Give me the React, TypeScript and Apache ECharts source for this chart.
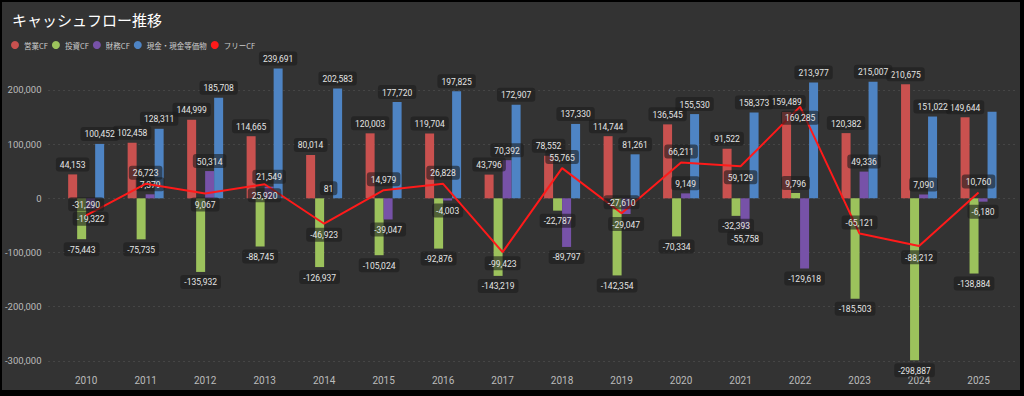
import React, { useEffect, useRef } from "react";
import * as echarts from "echarts";

const years = ["2010","2011","2012","2013","2014","2015","2016","2017","2018","2019","2020","2021","2022","2023","2024","2025"];
const operatingCF = [44153,102458,144999,114665,80014,120003,119704,43796,78552,114744,136545,91522,159489,120382,210675,149644];
const investingCF = [-75443,-75735,-135932,-88745,-126937,-105024,-92876,-143219,-22787,-142354,-70334,-32393,9796,-185503,-298887,-138884];
const financingCF = [-19322,7379,50314,21549,81,-39047,-4003,70392,-89797,-29047,9149,-55758,-129618,49336,7090,-6180];
const cashEq = [100452,128311,185708,239691,202583,177720,197825,172907,137330,81261,155530,158373,213977,215007,151022,160000];
const freeCF = [-31290,26723,9067,25920,-46923,14979,26828,-99423,55765,-27610,66211,59129,169285,-65121,-88212,10760];
const freeLabelPos = ["top","top","bottom","bottom","bottom","top","top","bottom","top","top","top","bottom","bottom","top","bottom","top"];
const cashHiddenLabels = [15];
const seriesNames = ["営業CF","投資CF","財務CF","現金・現金等価物","フリーCF"];

const COLORS = ["#c9514f", "#9cc25c", "#7752a8", "#4e84c4", "#ff1a1a"];
const NUM_FONT = "'Liberation Sans Narrow', Roboto, sans-serif";
const fmt = (v: number) => Number(v).toLocaleString("en-US");

const Y_MIN = -300000;
const Y_MAX = 260000;
const TOP = 55.5;
const BOTTOM = 29.2;

export default function App() {
  const ref = useRef<HTMLDivElement>(null);
  useEffect(() => {
    document.body.style.margin = "0";
    const chart = echarts.init(ref.current!, null, { renderer: "svg" });
    const labelBase = {
      show: true,
      color: "#e4e4e4",
      fontSize: 8.5,
      fontFamily: NUM_FONT,
      backgroundColor: "rgba(28,28,28,0.6)",
      padding: [3, 4, 2, 4],
      borderRadius: 3,
      distance: 3,
      formatter: (p: any) => fmt(p.value),
    };
    const barData = (arr: number[], hidden: number[] = []) =>
      arr.map((v, i) => ({
        value: v,
        label: hidden.indexOf(i) >= 0 ? { show: false } : { position: v >= 0 ? "top" : "bottom" },
      }));
    const barSeries = (idx: number, arr: number[], hidden: number[] = []) => ({
      name: seriesNames[idx],
      type: "bar",
      xAxisIndex: 1,
      yAxisIndex: 1,
      barWidth: 9,
      barGap: "0%",
      itemStyle: { color: COLORS[idx] },
      label: { ...labelBase },
      data: barData(arr, hidden),
    });
    chart.setOption({
      animation: false,
      backgroundColor: "#333333",
      title: {
        text: "キャッシュフロー推移",
        left: 5,
        top: 5,
        textStyle: { color: "#ffffff", fontSize: 15, fontWeight: "normal", fontFamily: "'Noto Sans CJK JP', sans-serif" },
      },
      legend: {
        left: 4,
        top: 34,
        itemWidth: 8,
        itemHeight: 8,
        itemGap: 4,
        icon: "circle",
        textStyle: { color: "#cccccc", fontSize: 7.5, fontFamily: "'Noto Sans CJK JP', sans-serif" },
        data: seriesNames,
      },
      grid: [
        { left: 43, right: 2, top: TOP, bottom: BOTTOM },
        { left: 54.4, right: 11.7, top: TOP, bottom: BOTTOM },
      ],
      xAxis: [
        { type: "value", gridIndex: 0, min: 0, max: 1, show: false },
        {
          type: "category",
          gridIndex: 1,
          data: years,
          axisLine: { show: false },
          axisTick: { show: false },
          axisLabel: { color: "#bbbbbb", fontSize: 10, margin: 15, fontFamily: NUM_FONT },
        },
      ],
      yAxis: [
        {
          type: "value",
          gridIndex: 0,
          min: Y_MIN,
          max: Y_MAX,
          interval: 100000,
          axisLine: { show: false },
          axisTick: { show: false },
          axisLabel: {
            color: "#bbbbbb",
            fontSize: 9.5,
            margin: 7,
            showMaxLabel: false,
            fontFamily: NUM_FONT,
            formatter: (v: number) => (v % 100000 === 0 ? fmt(v) : ""),
          },
          splitLine: {
            show: true,
            showMaxLine: false,
            lineStyle: { color: ["#5a5a5a", "#5a5a5a", "#5a5a5a", "#5a5a5a", "#5a5a5a", "#5a5a5a", "transparent"], type: [1, 4], width: 1 },
          },
        },
        {
          type: "value",
          gridIndex: 1,
          min: Y_MIN,
          max: Y_MAX,
          interval: 100000,
          show: false,
          splitLine: { show: false },
        },
      ],
      series: [
        barSeries(0, operatingCF),
        barSeries(1, investingCF),
        barSeries(2, financingCF),
        barSeries(3, cashEq, cashHiddenLabels),
        {
          name: seriesNames[4],
          type: "line",
          xAxisIndex: 1,
          yAxisIndex: 1,
          symbol: "circle",
          symbolSize: 0.1,
          showSymbol: true,
          z: 5,
          lineStyle: { color: COLORS[4], width: 2 },
          itemStyle: { color: COLORS[4] },
          label: { ...labelBase, distance: 4 },
          data: freeCF.map((v, i) => ({ value: v, label: { position: freeLabelPos[i] } })),
        },
      ],
    });
    return () => chart.dispose();
  }, []);
  return (
    <div style={{ position: "fixed", left: 0, top: 0, width: 1024, height: 396, background: "#000" }}>
      <div ref={ref} style={{ position: "absolute", left: 2, top: 2, width: 1018, height: 388 }} />
    </div>
  );
}
